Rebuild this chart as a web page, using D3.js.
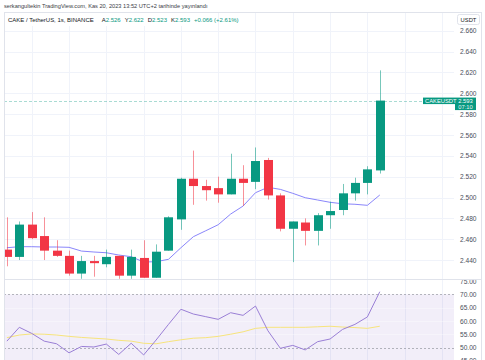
<!DOCTYPE html>
<html><head><meta charset="utf-8">
<script src="https://cdn.jsdelivr.net/npm/d3@7/dist/d3.min.js"></script>
<style>html,body{margin:0;padding:0;background:#fff;}svg{display:block;font-family:"Liberation Sans",Arial,sans-serif;}</style>
</head><body>
<svg id="c" width="485" height="360"></svg>
<script>
// ---- data ----
const opens  = [2.450,2.443,2.474,2.463,2.449,2.444,2.427,2.439,2.436,2.444,2.425,2.442,2.423,2.449,2.479,2.518,2.511,2.509,2.503,2.518,2.515,2.536,2.502,2.470,2.476,2.468,2.483,2.488,2.504,2.514,2.526];
const highs  = [2.481,2.477,2.486,2.481,2.459,2.449,2.444,2.444,2.450,2.444,2.450,2.459,2.455,2.482,2.519,2.545,2.517,2.520,2.542,2.531,2.548,2.538,2.504,2.477,2.480,2.485,2.496,2.513,2.519,2.530,2.622];
const lows   = [2.434,2.440,2.460,2.440,2.443,2.425,2.422,2.424,2.433,2.422,2.422,2.423,2.423,2.449,2.469,2.493,2.497,2.495,2.503,2.492,2.508,2.498,2.4675,2.438,2.454,2.454,2.470,2.483,2.497,2.503,2.523];
const closes = [2.443,2.474,2.461,2.449,2.444,2.427,2.439,2.437,2.443,2.425,2.443,2.423,2.448,2.481,2.518,2.511,2.507,2.503,2.518,2.514,2.535,2.502,2.470,2.477,2.468,2.483,2.487,2.504,2.514,2.527,2.593];
const maValues = [2.4518,2.4528,2.4528,2.4525,2.4525,2.4522,2.4486,2.4477,2.4470,2.4448,2.4432,2.4381,2.4384,2.4407,2.4518,2.4624,2.4681,2.4739,2.4841,2.4918,2.5046,2.5098,2.5078,2.5040,2.4998,2.4976,2.4954,2.4940,2.4935,2.4925,2.5024];
const rsiValues = [52.4,57.6,55.3,52.4,51.4,48.0,50.4,50.2,51.3,47.4,51.6,47.2,52.8,58.7,64.4,62.6,61.6,60.6,63.1,62.1,65.6,56.3,49.7,50.8,49.1,52.2,53.2,56.8,58.7,61.5,71.0];
const rsiMaValues = [53.7,54.7,55.1,55.0,54.7,54.2,53.8,53.5,53.2,52.7,52.4,51.6,51.4,52.2,52.9,53.5,53.7,54.2,55.0,55.9,57.2,57.6,57.6,57.6,57.6,57.8,58.0,57.7,57.5,57.2,58.0];
const priceTicks = [2.440,2.460,2.480,2.500,2.520,2.540,2.560,2.580,2.600,2.620,2.640,2.660];
const rsiTicks = [45,50,55,60,65,70,75];
const rsiBands = [70,50];
const headerText = "serkangultekin TradingView.com, Kas 20, 2023 13:52 UTC+2 tarihinde yayınlandı";
const symbolText = "CAKE / TetherUS, 1s, BINANCE";
const ohlcLabels = ["A","Y","D","K"];
const ohlcLast = [2.526,2.622,2.523,2.593];
const changeText = "+0.066 (+2.61%)";
const lastLabel = "CAKEUSDT";
const lastPrice = 2.593;
const countdown = "07:10";
const currency = "USDT";

// ---- layout ----
const L = 4, R = 454, RB = 481, PT = 12, PB = 279, RT = 280, RBot = 360;
const GREEN = "#089981", RED = "#F23645", GRID = "#f0f3fa", BORDER = "#e0e3eb", TXT = "#131722";
const svg = d3.select("#c");
const idx = d3.range(closes.length);
const x = d3.scaleLinear().domain([-0.233, 35.97]).range([L, R]);
const y = d3.scaleLinear().domain([2.4218, 2.678]).range([PB, PT]);
const yr = d3.scaleLinear().domain([45.3, 75.4]).range([RBot, RT]);

const defs = svg.append("defs");
defs.append("clipPath").attr("id","cp").append("rect").attr("x",L).attr("y",PT).attr("width",R-L).attr("height",PB-PT);
defs.append("clipPath").attr("id","cr").append("rect").attr("x",L).attr("y",RT).attr("width",RB-L).attr("height",RBot-RT);

// grid
const vg = d3.range(2, 36, 3);
svg.append("g").selectAll("line").data(vg).join("line")
  .attr("x1",d=>Math.round(x(d))+0.5).attr("x2",d=>Math.round(x(d))+0.5)
  .attr("y1",PT).attr("y2",RBot).attr("stroke",GRID);
svg.append("g").selectAll("line").data(priceTicks).join("line")
  .attr("x1",L).attr("x2",R).attr("y1",d=>Math.round(y(d))+0.5).attr("y2",d=>Math.round(y(d))+0.5).attr("stroke",GRID);

// RSI pane
const rsiG = svg.append("g").attr("clip-path","url(#cr)");
rsiG.append("rect").attr("x",L).attr("width",R-L).attr("y",yr(70)).attr("height",yr(30)-yr(70)).attr("fill","rgba(126,87,194,0.1)");
rsiG.selectAll("line.g").data([55,60,65]).join("line").attr("class","g")
  .attr("x1",L).attr("x2",R).attr("y1",d=>Math.round(yr(d))+0.5).attr("y2",d=>Math.round(yr(d))+0.5).attr("stroke","rgba(255,255,255,0.35)");
rsiG.selectAll("line.b").data(rsiBands).join("line").attr("class","b")
  .attr("x1",L).attr("x2",R).attr("y1",d=>Math.round(yr(d))+0.5).attr("y2",d=>Math.round(yr(d))+0.5)
  .attr("stroke","#9598a1").attr("stroke-opacity",0.7).attr("stroke-dasharray","2,2");
rsiG.append("path").datum(idx).attr("fill","none").attr("stroke","#f7e47c").attr("stroke-width",1)
  .attr("d", d3.line().x(i=>x(i)).y(i=>yr(rsiMaValues[i])));
rsiG.append("path").datum(idx).attr("fill","none").attr("stroke","#9a7fd6").attr("stroke-width",1)
  .attr("d", d3.line().x(i=>x(i)).y(i=>yr(rsiValues[i])));

// price pane
const pg = svg.append("g").attr("clip-path","url(#cp)");
pg.append("line").attr("x1",L).attr("x2",R).attr("y1",Math.round(y(lastPrice))+0.5).attr("y2",Math.round(y(lastPrice))+0.5)
  .attr("stroke",GREEN).attr("stroke-opacity",0.35).attr("stroke-dasharray","3,2");
pg.append("path").datum(idx).attr("fill","none").attr("stroke","#8a86fb").attr("stroke-width",1)
  .attr("d", d3.line().x(i=>x(i)).y(i=>y(maValues[i])));
const bw = 9;
const cg = pg.selectAll("g.c").data(idx).join("g").attr("class","c");
cg.append("line")
  .attr("x1",i=>Math.round(x(i))+0.5).attr("x2",i=>Math.round(x(i))+0.5)
  .attr("y1",i=>y(highs[i])).attr("y2",i=>y(lows[i]))
  .attr("stroke",i=>closes[i]>=opens[i]?GREEN:RED).attr("stroke-opacity",0.55);
cg.append("rect")
  .attr("x",i=>Math.round(x(i))-bw/2+0.5).attr("width",bw)
  .attr("y",i=>y(Math.max(opens[i],closes[i])))
  .attr("height",i=>Math.max(1,Math.abs(y(opens[i])-y(closes[i]))))
  .attr("fill",i=>closes[i]>=opens[i]?GREEN:RED);

// axes
const pa = svg.append("g").attr("transform",`translate(${R+3},0)`)
  .call(d3.axisRight(y).tickValues(priceTicks).tickSize(0).tickFormat(d3.format(".3f")));
pa.select(".domain").remove();
pa.selectAll("text").attr("fill","#4a4e5a").attr("font-size",6.6).attr("font-family","Liberation Sans, Arial, sans-serif");
const ra = svg.append("g").attr("clip-path","url(#cr)").append("g").attr("transform",`translate(${R+3},0)`)
  .call(d3.axisRight(yr).tickValues(rsiTicks).tickSize(0).tickFormat(d3.format(".2f")));
ra.select(".domain").remove();
ra.selectAll("text").attr("fill","#4a4e5a").attr("font-size",6.6).attr("font-family","Liberation Sans, Arial, sans-serif");

// last price label
const ly = y(lastPrice);
const lg = svg.append("g");
lg.append("rect").attr("x",423).attr("y",ly-3).attr("width",53).attr("height",6.5).attr("fill",GREEN);
lg.append("rect").attr("x",455).attr("y",ly+3).attr("width",21).attr("height",6.5).attr("fill",GREEN);
lg.append("text").attr("x",425).attr("y",ly+0.4).attr("dy","0.35em").attr("fill","#fff").attr("font-size",5.8).text(lastLabel);
lg.append("text").attr("x",465.5).attr("y",ly+0.4).attr("dy","0.35em").attr("text-anchor","middle").attr("fill","#fff").attr("font-size",5.8).text(d3.format(".3f")(lastPrice));
lg.append("text").attr("x",465.5).attr("y",ly+6.6).attr("dy","0.35em").attr("text-anchor","middle").attr("fill","#e6f5f2").attr("font-size",5.8).text(countdown);

// frame
svg.append("line").attr("x1",L).attr("x2",RB).attr("y1",PT+0.5).attr("y2",PT+0.5).attr("stroke",BORDER);
svg.append("line").attr("x1",L+0.5).attr("x2",L+0.5).attr("y1",PT).attr("y2",RBot).attr("stroke",BORDER);
svg.append("line").attr("x1",RB+0.5).attr("x2",RB+0.5).attr("y1",PT).attr("y2",RBot).attr("stroke",BORDER);
svg.append("line").attr("x1",L).attr("x2",RB).attr("y1",PB+0.5).attr("y2",PB+0.5).attr("stroke",BORDER);

// header
const ht = svg.append("text").attr("x",4).attr("y",6).attr("dy","0.35em").attr("fill","#3a3d45").attr("font-size",6).text(headerText);
const hw = ht.node().getComputedTextLength(); ht.attr("font-size", 6*204/hw);

// legend
svg.append("rect").attr("x",L+1).attr("y",PT+1).attr("width",213).attr("height",13).attr("fill","#fff");
const lt = svg.append("text").attr("x",8).attr("y",19.5).attr("dy","0.35em").attr("font-size",6).attr("fill",TXT);
lt.append("tspan").text(symbolText);
ohlcLabels.forEach((lab,k)=>{
  lt.append("tspan").attr("dx", k===0?8:4).attr("fill",TXT).text(lab);
  lt.append("tspan").attr("fill",GREEN).text(d3.format(".3f")(ohlcLast[k]));
});
lt.append("tspan").attr("dx",4).attr("fill",GREEN).text(changeText);
const lw = lt.node().getComputedTextLength(); lt.attr("font-size", 6*207/lw);

// currency button
svg.append("rect").attr("x",457.5).attr("y",14.5).attr("width",22).attr("height",10).attr("rx",2).attr("fill","#fff").attr("stroke",BORDER);
svg.append("text").attr("x",468.5).attr("y",19.7).attr("dy","0.35em").attr("text-anchor","middle").attr("font-size",5.8).attr("fill",TXT).text(currency);
</script>
</body></html>
